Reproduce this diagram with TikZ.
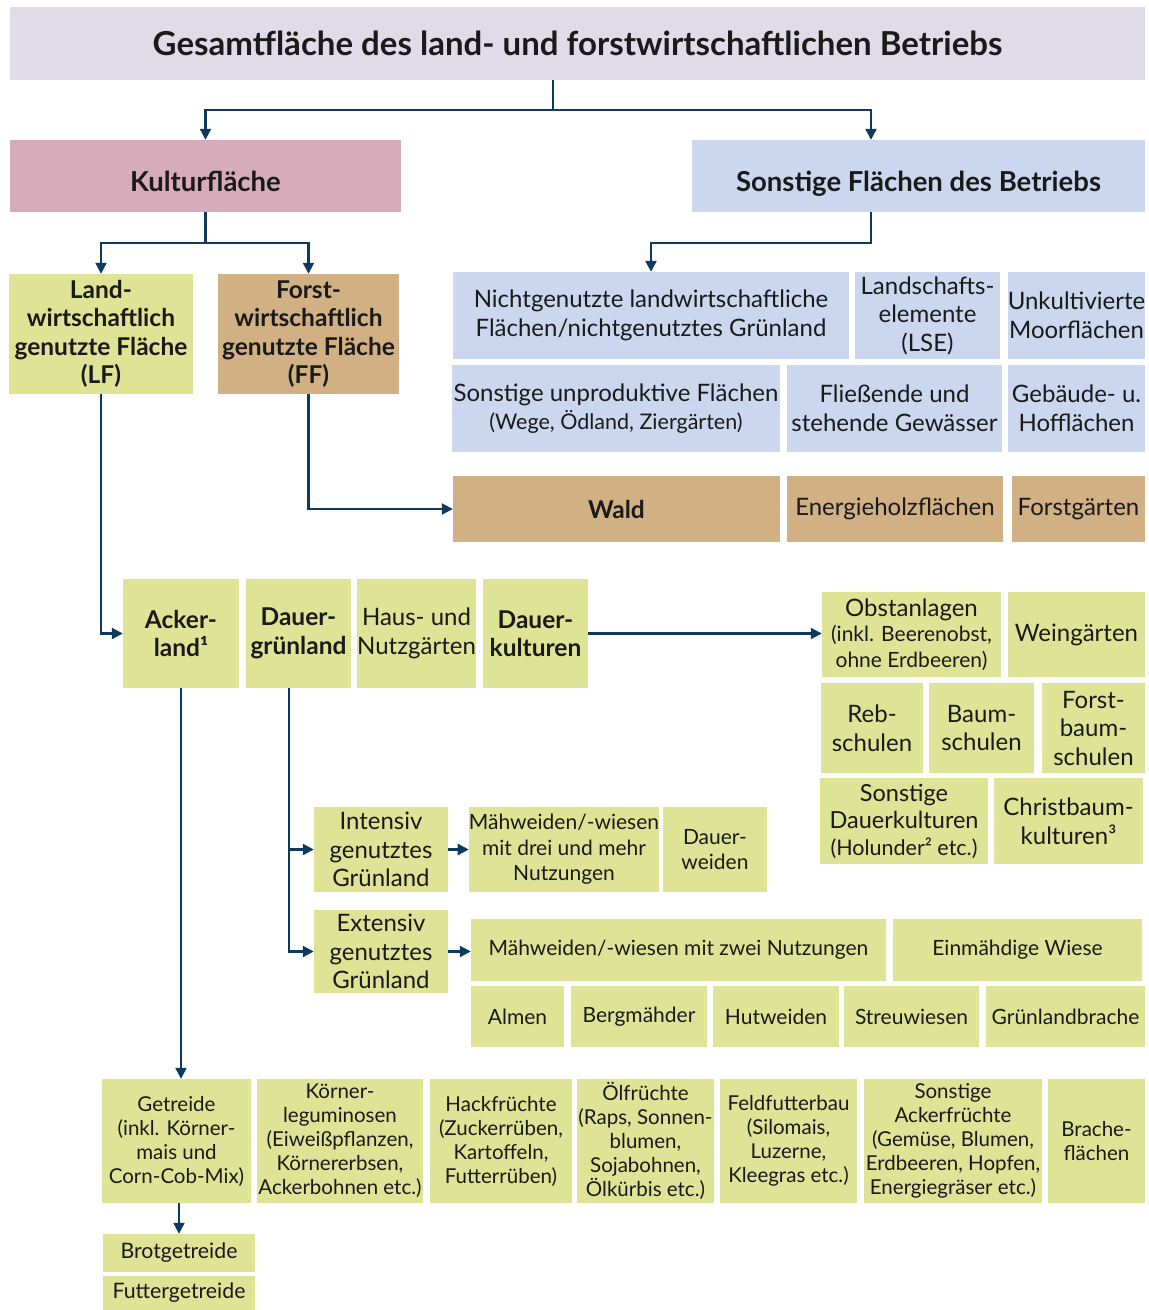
\documentclass[tikz,border=0pt]{standalone}
\usepackage{fontspec}
\setmainfont{Lato}
\usetikzlibrary{arrows.meta}
\definecolor{cTitle}{HTML}{DFDCE8}
\definecolor{cKult}{HTML}{D6ACBB}
\definecolor{cBlue}{HTML}{CBD7EE}
\definecolor{cGreen}{HTML}{DEE395}
\definecolor{cTan}{HTML}{D1B083}
\definecolor{cLine}{HTML}{0E3A5F}
\definecolor{cText}{HTML}{1A1A1A}
\newcommand\fT{\fontsize{33}{38}\bfseries\selectfont}
\newcommand\fH{\fontsize{27.5}{32}\bfseries\selectfont}
\newcommand\fBb{\fontsize{24.5}{28.5}\bfseries\selectfont}
\newcommand\fN{\fontsize{24}{28.5}\selectfont}
\newcommand\fM{\fontsize{21}{25.5}\selectfont}
\newcommand\fS{\fontsize{20.5}{24}\selectfont}
\newcommand\fSm{\fontsize{21.5}{26}\selectfont}
\tikzset{
  box/.style={rectangle, inner sep=0pt, align=center, font=\fN, text=cText},
  conn/.style={draw=cLine, line width=2.2pt, -{Triangle[length=11pt,width=11pt]}},
  low/.style={text height=30pt, text depth=0pt},
}
\newcommand\bx[7][]{\node[box,#1,minimum width={(#4-#2)*1pt},minimum height={(#5-#3)*1pt}] (#6) at ({(#2+#4)/2},{(#3+#5)/2}) {#7};}
\begin{document}
\begin{tikzpicture}[x=1pt,y=-1pt]
\useasboundingbox[fill=white] (0,0) rectangle (1149,1310);
% top
\bx[fill=cTitle,font=\fT]{10}{7}{1145}{80}{title}{Gesamtfläche des land- und forstwirtschaftlichen Betriebs}
\bx[fill=cKult,font=\fH,low]{10}{140}{401}{212}{kultur}{Kulturfläche}
\bx[fill=cBlue,font=\fH,low]{692}{140}{1145}{212}{sonst}{Sonstige Flächen des Betriebs}
\bx[fill=cGreen,font=\fBb]{9}{274}{193}{394}{lf}{Land-\\wirtschaftlich\\genutzte Fläche\\(LF)}
\bx[fill=cTan,font=\fBb]{218}{274}{399}{394}{ff}{Forst-\\wirtschaftlich\\genutzte Fläche\\(FF)}
% sonstige
\bx[fill=cBlue]{453}{272}{849}{359}{nicht}{Nichtgenutzte landwirtschaftliche\\Flächen/nichtgenutztes Grünland}
\bx[fill=cBlue]{855}{272}{1000}{359}{lse}{Landschafts-\\elemente\\(LSE)}
\bx[fill=cBlue]{1008}{272}{1145}{359}{moor}{Unkultivierte\\Moorflächen}
\bx[fill=cBlue]{452}{365}{780}{452}{unprod}{Sonstige unproduktive Flächen\\{\fSm (Wege, Ödland, Ziergärten)}}
\bx[fill=cBlue]{787}{365}{1002}{452}{gew}{Fließende und\\stehende Gewässer}
\bx[fill=cBlue]{1008}{365}{1145}{452}{hof}{Gebäude- u.\\Hofflächen}
% forst
\bx[fill=cTan,font=\fBb]{453}{476}{780}{542}{wald}{Wald}
\bx[fill=cTan]{787}{476}{1003}{542}{energ}{Energieholzflächen}
\bx[fill=cTan]{1012}{476}{1145}{542}{fgart}{Forstgärten}
% LF row
\bx[fill=cGreen,font=\fBb]{123}{579}{239}{688}{acker}{Acker-\\land¹}
\bx[fill=cGreen,font=\fBb]{246}{579}{351}{688}{dgr}{Dauer-\\grünland}
\bx[fill=cGreen]{357}{579}{476}{688}{haus}{Haus- und\\Nutzgärten}
\bx[fill=cGreen,font=\fBb]{483}{579}{588}{688}{dkult}{Dauer-\\kulturen}
% Dauerkulturen
\bx[fill=cGreen,font=\fontsize{21}{25.5}\selectfont]{822}{592}{1001}{677}{obst}{{\fontsize{24}{25.5}\selectfont Obstanlagen}\\(inkl. Beerenobst,\\ohne Erdbeeren)}
\bx[fill=cGreen]{1008}{592}{1145}{677}{wein}{Weingärten}
\bx[fill=cGreen]{821}{683}{923}{773}{reb}{Reb-\\schulen}
\bx[fill=cGreen]{929}{683}{1034}{773}{baum}{Baum-\\schulen}
\bx[fill=cGreen]{1042}{683}{1145}{773}{fbaum}{Forst-\\baum-\\schulen}
\bx[fill=cGreen,font=\fontsize{23.5}{27}\selectfont]{820}{778}{988}{864}{sdk}{Sonstige\\Dauerkulturen\\{\fSm (Holunder² etc.)}}
\bx[fill=cGreen]{994}{778}{1143}{864}{christ}{Christbaum-\\kulturen³}
% Gruenland
\bx[fill=cGreen]{314}{807}{448}{892}{intens}{Intensiv\\genutztes\\Grünland}
\bx[fill=cGreen,font=\fM]{471}{807}{657}{892}{mw3}{Mähweiden/-wiesen\\mit drei und mehr\\Nutzungen}
\bx[fill=cGreen,font=\fM]{663}{807}{767}{892}{dweide}{Dauer-\\weiden}
\bx[fill=cGreen]{314}{910}{448}{993}{extens}{Extensiv\\genutztes\\Grünland}
\bx[fill=cGreen,font=\fM]{471}{919}{886}{981}{mw2}{Mähweiden/-wiesen mit zwei Nutzungen}
\bx[fill=cGreen,font=\fM]{893}{919}{1142}{981}{einm}{Einmähdige Wiese}
\bx[fill=cGreen,font=\fM]{471}{986}{564}{1047}{almen}{Almen}
\bx[fill=cGreen,font=\fM]{571}{986}{707}{1047}{bergm}{Bergmähder}
\bx[fill=cGreen,font=\fM]{713}{986}{839}{1047}{hutw}{Hutweiden}
\bx[fill=cGreen,font=\fM]{844}{986}{979}{1047}{streu}{Streuwiesen}
\bx[fill=cGreen,font=\fM]{986}{986}{1145}{1047}{gbrache}{Grünlandbrache}
% Ackerland
\bx[fill=cGreen,font=\fS]{102}{1079}{251}{1203}{getr}{Getreide\\(inkl. Körner-\\mais und\\Corn-Cob-Mix)}
\bx[fill=cGreen,font=\fS]{257}{1079}{423}{1203}{koern}{Körner-\\leguminosen\\(Eiweißpflanzen,\\Körnererbsen,\\Ackerbohnen etc.)}
\bx[fill=cGreen,font=\fS]{430}{1079}{572}{1203}{hack}{Hackfrüchte\\(Zuckerrüben,\\Kartoffeln,\\Futterrüben)}
\bx[fill=cGreen,font=\fS]{577}{1079}{714}{1203}{oel}{Ölfrüchte\\(Raps, Sonnen-\\blumen,\\Sojabohnen,\\Ölkürbis etc.)}
\bx[fill=cGreen,font=\fS]{720}{1079}{857}{1203}{feld}{Feldfutterbau\\(Silomais,\\Luzerne,\\Kleegras etc.)}
\bx[fill=cGreen,font=\fS]{864}{1079}{1042}{1203}{sack}{Sonstige\\Ackerfrüchte\\(Gemüse, Blumen,\\Erdbeeren, Hopfen,\\Energiegräser etc.)}
\bx[fill=cGreen,font=\fS]{1048}{1079}{1145}{1203}{brache}{Brache-\\flächen}
\bx[fill=cGreen,font=\fontsize{21.3}{25}\selectfont]{103}{1234}{255}{1272}{brot}{Brotgetreide}
\bx[fill=cGreen,font=\fontsize{21.3}{25}\selectfont]{103}{1276}{255}{1310}{futter}{Futtergetreide}
% connectors
\draw[conn] ([xshift=-24.5pt]title.south) -- ++(0,30) -| (kultur.north);
\draw[conn] ([xshift=-24.5pt]title.south) -- ++(0,30) -| ([xshift=-47.5pt]sonst.north);
\draw[conn] (kultur.south) -- ++(0,31) -| (lf.north);
\draw[conn] (kultur.south) -- ++(0,31) -| (ff.north);
\draw[conn] ([xshift=-47.5pt]sonst.south) -- ++(0,31) -| (nicht.north);
\draw[conn] (ff.south) |- (wald.west);
\draw[conn] (lf.south) |- (acker.west);
\draw[conn] (dkult.east) -- (dkult.east -| obst.west);
\draw[conn] ([xshift=-9.5pt]dgr.south) |- (intens.west);
\draw[conn] ([xshift=-9.5pt]dgr.south) |- (extens.west);
\draw[conn] (intens.east) -- (mw3.west);
\draw[conn] (extens.east) -- (extens.east -| mw2.west);
\draw[conn] (acker.south) -- (acker.south |- getr.north);
\draw[conn] (getr.south -| brot.north) -- (brot.north);
\end{tikzpicture}
\end{document}
